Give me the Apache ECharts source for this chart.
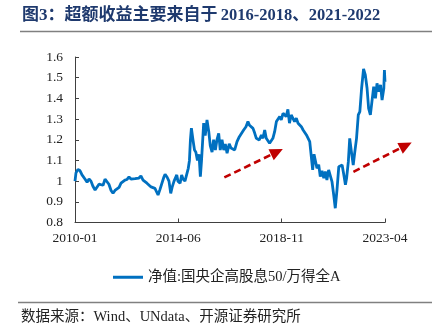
<!DOCTYPE html>
<html><head><meta charset="utf-8">
<script src="https://cdn.jsdelivr.net/npm/echarts@6/dist/echarts.min.js"></script>
<style>html,body{margin:0;padding:0;background:#fff}#c{width:434px;height:336px}</style>
</head><body><div id="c"></div>
<script>
// months since 2010-01
var months = [0,0.5,1.5,2.6,3.6,5.1,6.2,7.2,8.2,9.2,10.3,11.3,12.3,13.3,14.4,15.4,16.4,17.4,18.5,19.5,20.5,21.5,22.6,23.6,24.6,25.6,26.7,27.7,28.7,29.7,30.8,31.8,32.8,33.8,34.9,35.9,36.9,37.9,39.0,40.0,41.0,42.0,42.6,43.6,44.6,45.6,46.2,47.2,48.2,49.1,49.8,50.8,52.2,
  52.8,53.9,54.7,55.4,56.4,57.3,58.1,58.7,59.2,59.7,60.5,61.3,62.0,62.8,63.6,64.3,64.9,66.0,66.8,67.7,68.6,69.4,70.3,71.1,72.0,72.8,73.7,74.5,75.4,76.3,77.1,78.0,79.1,80.0,
  80.5,81.9,83.1,84.3,85.3,86.5,87.7,88.7,89.5,90.4,91.3,92.2,93.0,93.9,94.5,95.6,96.4,97.3,98.1,99.0,99.8,100.7,101.5,102.4,103.3,104.1,105.0,105.8,106.7,107.6,108.3,109.2,110.0,110.9,111.8,112.6,113.5,114.4,115.2,116.1,117.0,117.8,118.7,119.6,120.4,121.3,
  121.9,122.6,123.3,124.1,125.0,125.8,126.7,127.6,128.4,129.2,130.1,130.9,131.8,132.7,133.5,134.4,135.3,136.1,137.0,137.9,138.7,139.3,140.2,140.9,141.8,142.7,143.5,144.4,145.3,146.1,147.0,148.0,148.9,149.8,150.6,151.5,152.3,153.2,154.1,154.9,155.8,156.7,157.5,158.4,158.7,159.0];
var values = [1.0,1.04,1.057,1.05,1.03,1.01,0.995,1.01,1.0,0.975,0.957,0.965,0.985,0.99,0.98,1.01,1.014,0.985,0.955,0.941,0.955,0.955,0.97,0.99,0.995,1.005,1.008,1.02,1.01,1.015,1.012,1.01,1.015,1.025,1.005,1.0,0.99,0.985,0.972,0.98,0.965,0.945,0.933,0.96,0.99,1.02,1.033,1.02,1.0,0.941,0.97,1.0,1.03,
  1.0,0.99,1.03,1.01,1.0,1.0,1.062,1.10,1.2,1.256,1.2,1.15,1.14,1.10,1.13,1.022,1.1,1.28,1.22,1.296,1.24,1.17,1.14,1.2,1.15,1.2,1.231,1.15,1.2,1.15,1.18,1.135,1.18,1.16,
  1.167,1.151,1.191,1.215,1.22,1.247,1.263,1.288,1.27,1.275,1.255,1.231,1.207,1.215,1.199,1.223,1.207,1.247,1.207,1.199,1.183,1.19,1.207,1.239,1.288,1.296,1.312,1.296,1.328,1.336,1.312,1.347,1.28,1.32,1.328,1.288,1.304,1.28,1.272,1.263,1.247,1.239,1.223,1.215,1.191,1.183,
  1.054,1.13,1.135,1.062,1.08,1.022,1.05,1.014,1.046,1.006,1.054,1.06,0.998,0.933,0.869,0.96,1.07,1.062,1.078,1.03,0.982,1.014,1.094,1.207,1.14,1.078,1.14,1.207,1.32,1.336,1.449,1.542,1.513,1.449,1.352,1.32,1.384,1.457,1.40,1.473,1.433,1.465,1.392,1.449,1.537,1.48];
var tickMonths = [0,53,106,159];
var tickLabels = ['2010-01','2014-06','2018-11','2023-04'];
// annotation arrows: [startMonth, startValue, endMonth, endValue]
var arrows = [[76.6,1.018,106.6,1.155],[142.8,1.045,172.7,1.187]];
var seriesName = '净值:国央企高股息50/万得全A';
var titleMain = '图3：超额收益主要来自于';
var titlePeriods = '2016-2018、2021-2022';
var sourceText = '数据来源：Wind、UNdata、开源证券研究所';

var serif = '"Liberation Serif","Noto Sans CJK SC",serif';
var chart = echarts.init(document.getElementById('c'), null, {renderer:'canvas'});
var data = months.map(function(m,i){return [m, values[i]];});
var labelMap = {};
tickMonths.forEach(function(m,i){labelMap[m]=tickLabels[i];});

chart.setOption({
  animation:false,
  backgroundColor:'#fff',
  grid:{left:75,right:49,top:57,bottom:113.5,containLabel:false},
  xAxis:{type:'value',min:0,max:159,interval:53,
    axisLine:{lineStyle:{color:'#404040',width:1}},
    axisTick:{inside:true,length:4,lineStyle:{color:'#404040'}},
    splitLine:{show:false},
    axisLabel:{color:'#222',fontFamily:serif,fontSize:13.5,margin:9,
      formatter:function(v){return labelMap[v]!==undefined?labelMap[v]:'';}}
  },
  yAxis:{type:'value',min:0.8,max:1.6,interval:0.1,
    axisLine:{show:true,lineStyle:{color:'#404040',width:1}},
    axisTick:{show:true,inside:true,length:4,lineStyle:{color:'#404040'}},
    splitLine:{show:false},
    axisLabel:{color:'#222',fontFamily:serif,fontSize:13.5,margin:12}
  },
  legend:{left:108,top:265,icon:'rect',itemWidth:30,itemHeight:3,
    textStyle:{fontFamily:serif,fontSize:14.5,color:'#222'},data:[seriesName]},
  series:[{name:seriesName,type:'line',data:data,showSymbol:false,
    lineStyle:{color:'#0070C0',width:2.8},itemStyle:{color:'#0070C0'}}],
  graphic:[
    {type:'text',left:22,top:7,style:{text:'{c|'+titleMain+'} {n|'+titlePeriods+'}',
      rich:{c:{fontFamily:serif,fontWeight:'bold',fontSize:17,fill:'#1F3A6E'},
            n:{fontFamily:serif,fontWeight:'bold',fontSize:16.5,fill:'#1F3A6E'}}}},
    {type:'line',shape:{x1:20,y1:31.5,x2:432,y2:31.5},style:{stroke:'#808080',lineWidth:1.5}},
    {type:'line',shape:{x1:18,y1:302.5,x2:432,y2:302.5},style:{stroke:'#808080',lineWidth:1.5}},
    {type:'text',left:21,top:310,style:{text:sourceText,fontFamily:serif,fontSize:14.5,fill:'#222'}}
  ]
});

var g = [];
arrows.forEach(function(a,i){
  var p1 = chart.convertToPixel({gridIndex:0},[a[0],a[1]]);
  var p2 = chart.convertToPixel({gridIndex:0},[a[2],a[3]]);
  var dx=p2[0]-p1[0], dy=p2[1]-p1[1], L=Math.sqrt(dx*dx+dy*dy);
  var ux=dx/L, uy=dy/L, hl=13, hw=6;
  var bx=p2[0]-ux*hl, by=p2[1]-uy*hl;
  g.push({id:'al'+i,type:'line',shape:{x1:p1[0],y1:p1[1],x2:bx+ux*2,y2:by+uy*2},
    style:{stroke:'#C00000',lineWidth:2.6,lineDash:[7,4]}});
  g.push({id:'ah'+i,type:'polygon',shape:{points:[[p2[0],p2[1]],[bx-uy*hw,by+ux*hw],[bx+uy*hw,by-ux*hw]]},
    style:{fill:'#C00000'}});
});
chart.setOption({graphic:g});
</script></body></html>
